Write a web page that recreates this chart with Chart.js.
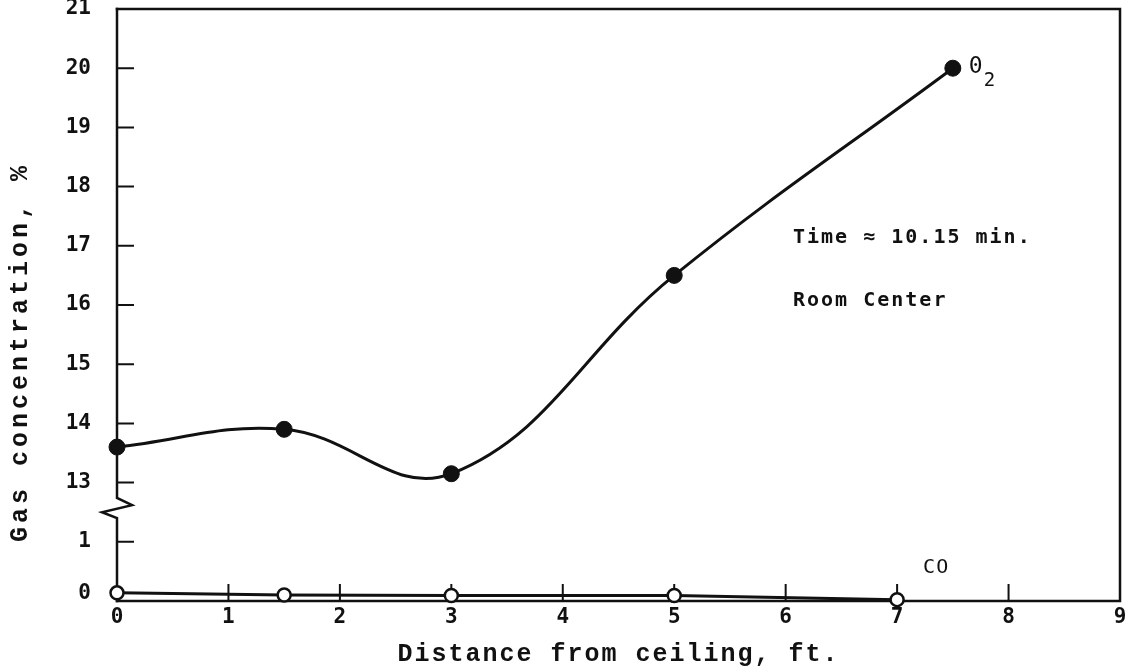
<!DOCTYPE html>
<html>
<head>
<meta charset="utf-8">
<script src="https://cdn.jsdelivr.net/npm/chart.js@4.4.1/dist/chart.umd.min.js"></script>
<style>
  html, body { margin: 0; padding: 0; background: #fff; }
  #wrap { width: 1136px; height: 671px; }
</style>
</head>
<body>
<div id="wrap"><canvas id="c" width="1136" height="671"></canvas></div>
<script>
// Gas concentration at the room centre, measured at several depths below the ceiling.
const o2DistanceFt = [0, 1.5, 3, 5, 7.5];
const o2Pct = [13.6, 13.9, 13.15, 16.5, 20.0];
const coDistanceFt = [0, 1.5, 3, 5, 7];
const coPct = [0.02, -0.02, -0.03, -0.03, -0.11];
const yTickLabels = [0, 1, 13, 14, 15, 16, 17, 18, 19, 20, 21];
const xTickLabels = [0, 1, 2, 3, 4, 5, 6, 7, 8, 9];

// The y axis is broken between 1 and 13: values are placed on a
// continuous axis where 0..1 sits on a short stub and 13..21 above it.
function toAxis(v) {
  return v >= 13 ? v - 11 : 0.12 + 0.88 * v;
}

const INK = '#111';
const MONO = '"Liberation Mono", "DejaVu Sans Mono", monospace';
const TYPE = '"DejaVu Sans Mono", "Liberation Mono", monospace';

function drawText(ctx, text, x, y, font, spacing, align) {
  ctx.save();
  ctx.font = font;
  ctx.fillStyle = INK;
  ctx.textBaseline = 'middle';
  ctx.textAlign = align || 'left';
  if ('letterSpacing' in ctx) ctx.letterSpacing = spacing + 'px';
  ctx.fillText(text, x, y);
  ctx.restore();
}

// Frame, broken left axis with its zigzag and inward tick marks.
const framePlugin = {
  id: 'frame',
  beforeDatasetsDraw(chart) {
    const ctx = chart.ctx;
    const { left, right, top, bottom } = chart.chartArea;
    const xs = chart.scales.x, ys = chart.scales.y;
    ctx.save();
    ctx.strokeStyle = INK;
    ctx.lineWidth = 2.5;
    ctx.lineCap = 'square';
    ctx.lineJoin = 'miter';
    // top, right and bottom edges
    ctx.beginPath();
    ctx.moveTo(left, top);
    ctx.lineTo(right, top);
    ctx.lineTo(right, bottom);
    ctx.lineTo(left, bottom);
    ctx.stroke();
    // left axis with the break symbol
    ctx.beginPath();
    ctx.moveTo(left, top);
    ctx.lineTo(left, ys.getPixelForValue(1.74));
    ctx.lineTo(left + 15, ys.getPixelForValue(1.62));
    ctx.lineTo(left - 15, ys.getPixelForValue(1.50));
    ctx.lineTo(left, ys.getPixelForValue(1.40));
    ctx.lineTo(left, bottom);
    ctx.stroke();
    // tick marks pointing into the plot
    ctx.lineWidth = 2;
    ctx.beginPath();
    yTickLabels.forEach(v => {
      if (v === 0 || v === 21) return;
      const y = ys.getPixelForValue(toAxis(v));
      ctx.moveTo(left, y);
      ctx.lineTo(left + 16, y);
    });
    xTickLabels.forEach(v => {
      if (v === 0 || v === 9) return;
      const x = xs.getPixelForValue(v);
      ctx.moveTo(x, bottom);
      ctx.lineTo(x, bottom - 16);
    });
    ctx.stroke();
    ctx.restore();
  },
  afterDraw(chart) {
    const ctx = chart.ctx;
    const { left, right } = chart.chartArea;
    const xs = chart.scales.x, ys = chart.scales.y;
    // axis titles
    drawText(ctx, 'Distance from ceiling, ft.', (left + right) / 2, 655,
      'bold 25px ' + MONO, 2, 'center');
    ctx.save();
    ctx.translate(21, 352);
    ctx.rotate(-Math.PI / 2);
    drawText(ctx, 'Gas concentration, %', 0, 0, 'bold 25px ' + MONO, 4, 'center');
    ctx.restore();
    // series labels next to their end points
    const o2x = xs.getPixelForValue(o2DistanceFt[o2DistanceFt.length - 1]);
    const o2y = ys.getPixelForValue(toAxis(o2Pct[o2Pct.length - 1]));
    drawText(ctx, '0', o2x + 16, o2y - 1, '23px ' + TYPE, 0);
    drawText(ctx, '2', o2x + 31, o2y + 13, '19px ' + TYPE, 0);
    const cox = xs.getPixelForValue(coDistanceFt[coDistanceFt.length - 1]);
    const coy = ys.getPixelForValue(toAxis(coPct[coPct.length - 1]));
    drawText(ctx, 'CO', cox + 26, coy - 32, '20px ' + TYPE, 1);
    // run notes
    drawText(ctx, 'Time \u2248 10.15 min.', 793, 238, 'bold 20px ' + TYPE, 2);
    drawText(ctx, 'Room Center', 793, 301, 'bold 20px ' + TYPE, 2);
  }
};

const o2Points = o2DistanceFt.map((x, i) => ({ x, y: toAxis(o2Pct[i]) }));
const coPoints = coDistanceFt.map((x, i) => ({ x, y: toAxis(coPct[i]) }));

new Chart(document.getElementById('c'), {
  type: 'line',
  data: {
    datasets: [
      {
        label: 'O2',
        data: o2Points,
        borderColor: INK,
        borderWidth: 3,
        tension: 0.4,
        pointRadius: 8,
        pointBackgroundColor: INK,
        pointBorderColor: INK,
        pointBorderWidth: 1,
        clip: false
      },
      {
        label: 'CO',
        data: coPoints,
        borderColor: INK,
        borderWidth: 3,
        tension: 0,
        pointRadius: 6.5,
        pointBackgroundColor: '#fff',
        pointBorderColor: INK,
        pointBorderWidth: 2.5,
        clip: false
      }
    ]
  },
  options: {
    responsive: false,
    animation: false,
    devicePixelRatio: 1,
    layout: { padding: { top: 9, right: 16, left: 0, bottom: 0 } },
    plugins: { legend: { display: false }, tooltip: { enabled: false } },
    scales: {
      x: {
        type: 'linear',
        min: 0,
        max: 9,
        grid: { display: false, drawTicks: false },
        border: { display: false },
        afterBuildTicks(scale) {
          scale.ticks = xTickLabels.map(v => ({ value: v }));
        },
        ticks: {
          color: INK,
          font: { family: TYPE, size: 21, weight: 'bold' },
          padding: 4,
          maxRotation: 0,
          callback: (v) => String(v)
        },
        afterFit(scale) {
          scale.height = 70;
          scale.paddingLeft = 0;
          scale.paddingRight = 0;
        }
      },
      y: {
        type: 'linear',
        min: 0,
        max: 10,
        grid: { display: false, drawTicks: false },
        border: { display: false },
        afterBuildTicks(scale) {
          scale.ticks = yTickLabels.map(v => ({ value: toAxis(v) }));
        },
        ticks: {
          color: INK,
          font: { family: TYPE, size: 21, weight: 'bold' },
          padding: 26,
          callback: (v, i) => String(yTickLabels[i])
        },
        afterFit(scale) {
          scale.width = 117;
          scale.paddingTop = 0;
          scale.paddingBottom = 0;
        }
      }
    }
  },
  plugins: [framePlugin]
});
</script>
</body>
</html>
